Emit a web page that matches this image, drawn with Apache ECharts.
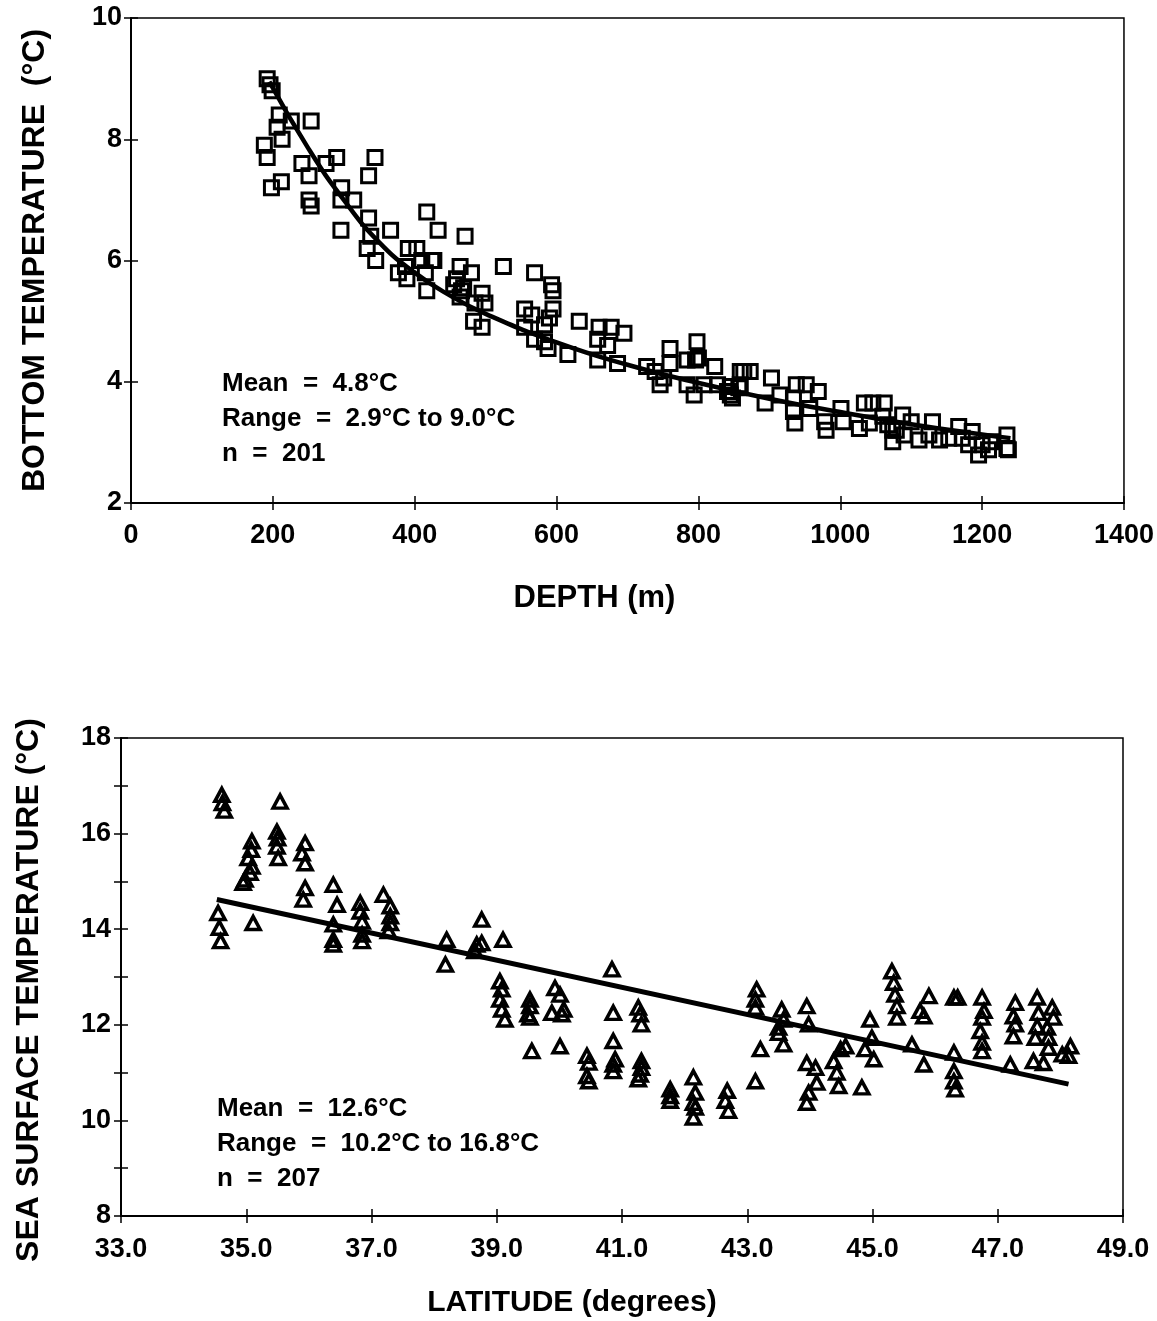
<!DOCTYPE html>
<html>
<head>
<meta charset="utf-8">
<script src="https://cdn.jsdelivr.net/npm/echarts@6/dist/echarts.min.js"></script>
<style>
  html, body { margin: 0; padding: 0; background: #fff; }
  #chart { width: 1157px; height: 1321px; }
</style>
</head>
<body>
<div id="chart"></div>
<script>
// Top panel: bottom temperature vs depth, [depth m, temp °C]
const bottomTempPoints = [
  [192,9.0],[196,8.9],[199,8.8],[209,8.4],[226,8.3],[254,8.3],[206,8.2],[213,8.0],[188,7.9],[192,7.7],
  [241,7.6],[275,7.6],[290,7.7],[344,7.7],[251,7.4],[335,7.4],[198,7.2],[212,7.3],[251,7.0],[254,6.9],
  [297,7.2],[296,7.0],[314,7.0],[417,6.8],[296,6.5],[335,6.7],[338,6.4],[366,6.5],[333,6.2],[345,6.0],
  [433,6.5],[471,6.4],[391,6.2],[403,6.2],[424,6.0],[410,6.0],[377,5.8],[389,5.7],[415,5.8],[417,5.5],
  [464,5.9],[459,5.7],[480,5.8],[466,5.5],[387,5.9],[427,6.0],[525,5.9],[569,5.8],[593,5.6],[595,5.5],
  [455,5.6],[469,5.55],[464,5.4],[495,5.46],[499,5.3],[485,5.3],[483,5.0],[495,4.9],[555,5.2],[565,5.1],
  [555,4.9],[595,5.2],[590,5.05],[583,4.94],[569,4.7],[583,4.66],[588,4.55],[632,5.0],[660,4.9],[677,4.9],
  [695,4.8],[658,4.7],[672,4.6],[616,4.45],[658,4.36],[686,4.3],[760,4.55],[798,4.66],[784,4.36],[796,4.36],
  [760,4.3],[823,4.25],[727,4.25],[739,4.17],[751,4.06],[746,3.95],[784,3.95],[794,3.78],[808,3.95],[827,3.95],
  [841,3.84],[859,4.17],[859,3.95],[845,3.78],[800,4.39],[864,4.17],[873,4.17],[845,3.92],[857,3.9],[848,3.73],
  [903,4.06],[894,3.65],[915,3.78],[934,3.73],[934,3.51],[936,3.32],[938,3.95],[952,3.95],[969,3.84],[957,3.56],
  [978,3.34],[980,3.2],[1001,3.56],[1004,3.34],[1034,3.65],[1046,3.65],[1062,3.65],[1027,3.23],[1041,3.32],[1060,3.43],
  [1067,3.29],[1074,3.2],[1074,3.01],[1088,3.45],[1100,3.34],[1079,3.2],[1090,3.12],[1111,3.04],[1130,3.34],[1125,3.12],
  [1140,3.04],[1153,3.07],[1167,3.26],[1172,3.07],[1181,2.96],[1186,3.18],[1195,2.79],[1200,2.96],[1212,3.01],[1209,2.88],
  [1235,3.12],[1235,2.9],[1237,2.88]
];
// fitted curve
const bottomTempFit = [
  [195,8.95],[250,7.85],[300,7.0],[350,6.3],[400,5.8],[450,5.42],[500,5.12],[600,4.65],
  [700,4.28],[800,3.98],[900,3.72],[1000,3.5],[1100,3.3],[1200,3.13],[1240,3.07]
];
const bottomTempNotes = ['Mean  =  4.8°C', 'Range  =  2.9°C to 9.0°C', 'n  =  201'];

// Bottom panel: sea surface temperature vs latitude, [lat deg, sst °C]
const sstPoints = [
  [34.61,16.81],[34.62,16.64],[34.65,16.48],[35.54,16.67],
  [35.09,15.84],[35.08,15.66],[35.03,15.49],[35.09,15.31],[35.06,15.18],[34.98,15.04],[34.95,14.97],
  [35.49,16.04],[35.5,15.9],[35.49,15.73],[35.51,15.49],
  [35.94,15.8],[35.89,15.59],[35.94,15.38],[35.94,14.86],[35.91,14.62],
  [34.55,14.34],[34.57,14.03],[34.59,13.75],[35.11,14.13],
  [36.39,14.93],[36.45,14.51],[36.39,14.1],[36.39,13.78],[36.39,13.68],
  [36.82,14.55],[36.82,14.37],[36.85,14.16],[36.85,13.89],[36.85,13.75],
  [37.19,14.72],[37.3,14.48],[37.3,14.27],[37.3,14.13],[37.27,13.96],
  [38.2,13.78],[38.18,13.26],
  [38.76,14.2],[38.68,13.68],[38.76,13.71],[38.65,13.54],[39.1,13.78],
  [39.05,12.91],[39.08,12.74],[39.05,12.53],[39.08,12.32],[39.13,12.11],
  [39.53,12.53],[39.53,12.39],[39.5,12.22],[39.53,12.15],[39.56,11.45],
  [39.93,12.77],[40.01,12.63],[39.88,12.25],[40.07,12.32],[40.04,12.22],[40.01,11.55],
  [40.84,13.16],[40.86,12.25],[40.86,11.66],[40.89,11.28],[40.86,11.03],[40.86,11.17],
  [41.26,12.36],[41.29,12.22],[41.31,12.01],[41.31,11.24],[41.31,11.1],[41.29,10.96],[41.26,10.86],
  [40.44,11.35],[40.47,11.21],[40.44,10.93],[40.47,10.82],
  [41.77,10.65],[41.77,10.51],[41.77,10.41],
  [42.14,10.9],[42.17,10.58],[42.14,10.37],[42.17,10.27],[42.14,10.06],
  [42.68,10.62],[42.65,10.41],[42.7,10.2],
  [43.15,12.74],[43.13,12.53],[43.13,12.36],[43.21,11.49],[43.13,10.82],
  [43.55,12.32],[43.58,12.11],[43.5,11.94],[43.5,11.83],[43.58,11.59],
  [43.95,12.39],[43.98,12.01],[43.95,11.2],[44.09,11.1],[44.11,10.79],[43.98,10.58],[43.95,10.37],
  [44.57,11.55],[44.49,11.49],[44.38,11.24],[44.43,11.0],[44.46,10.72],[44.83,10.69],
  [44.96,12.11],[44.99,11.73],[44.88,11.49],[45.02,11.28],
  [45.31,13.12],[45.34,12.88],[45.36,12.63],[45.39,12.39],[45.39,12.15],
  [45.63,11.59],[45.82,11.17],[45.9,12.6],[45.76,12.29],[45.82,12.18],
  [46.3,12.57],[46.36,12.57],[46.3,11.42],[46.3,11.03],[46.3,10.82],[46.32,10.65],
  [46.75,12.57],[46.78,12.29],[46.75,12.15],[46.72,11.87],[46.75,11.63],[46.75,11.45],
  [47.2,11.17],[47.28,12.46],[47.25,12.18],[47.28,12.01],[47.25,11.76],
  [47.63,12.57],[47.65,12.25],[47.63,11.97],[47.6,11.73],[47.57,11.24],[47.73,11.2],
  [47.87,12.36],[47.89,12.15],[47.79,11.94],[47.81,11.73],[47.81,11.52],
  [48.03,11.38],[48.16,11.55],[48.13,11.35]
];
const sstFit = [[34.53,14.62],[48.13,10.76]];
const sstNotes = ['Mean  =  12.6°C', 'Range  =  10.2°C to 16.8°C', 'n  =  207'];

const FONT = '"Liberation Sans", Arial, Helvetica, sans-serif';
const black = '#000';

// main axis (labels + outward ticks) and a twin with inward ticks so ticks cross the line
function axisPair(kind, gridIndex, min, max, interval, opts) {
  const minor = opts.minor
    ? { show: true, splitNumber: 2, length: 7, lineStyle: { color: black, width: 1.5 } }
    : { show: false };
  const base = {
    gridIndex, type: 'value', min, max, interval,
    position: kind === 'x' ? 'bottom' : 'left',
    splitLine: { show: false },
    minorTick: minor
  };
  const main = Object.assign({}, base, {
    axisLine: { show: true, onZero: false, lineStyle: { color: black, width: 2 } },
    axisTick: { show: true, inside: false, length: 7, lineStyle: { color: black, width: 1.5 } },
    axisLabel: {
      color: black, fontFamily: FONT, fontSize: 27, fontWeight: 'bold',
      margin: opts.margin, formatter: opts.formatter || (v => String(v))
    },
    name: opts.name, nameLocation: 'middle', nameGap: opts.nameGap,
    nameTextStyle: {
      color: black, fontFamily: FONT, fontSize: opts.nameSize, fontWeight: 'bold',
      padding: opts.namePad || 0
    }
  });
  const twin = Object.assign({}, base, {
    axisLine: { show: false, onZero: false },
    axisTick: { show: true, inside: true, length: 7, lineStyle: { color: black, width: 1.5 } },
    axisLabel: { show: false }
  });
  return [main, twin];
}

const topX = axisPair('x', 0, 0, 1400, 200, {
  margin: 19, name: 'DEPTH (m)', nameGap: 80, nameSize: 31, namePad: [0, 66, 0, 0]
});
const topY = axisPair('y', 0, 2, 10, 2, {
  margin: 9, name: 'BOTTOM TEMPERATURE  (°C)', nameGap: 80, nameSize: 32
});
const botX = axisPair('x', 1, 33, 49, 2, {
  margin: 20, name: 'LATITUDE (degrees)', nameGap: 72, nameSize: 30, namePad: [0, 100, 0, 0],
  formatter: v => v.toFixed(1)
});
const botY = axisPair('y', 1, 8, 18, 2, {
  margin: 10, name: 'SEA SURFACE TEMPERATURE (°C)', nameGap: 76, nameSize: 32,
  namePad: [0, 26, 0, 0], minor: true
});

function notes(lines, left, top) {
  return lines.map((t, i) => ({
    type: 'text', left, top: top + i * 35,
    style: { text: t, fill: black, fontFamily: FONT, fontSize: 26, fontWeight: 'bold' }
  }));
}

const chart = echarts.init(document.getElementById('chart'));
chart.setOption({
  animation: false,
  backgroundColor: '#fff',
  grid: [
    { left: 131, top: 18, width: 998, height: 485, show: true, borderColor: black, borderWidth: 1.5 },
    { left: 121, top: 738, width: 1002, height: 478, show: true, borderColor: black, borderWidth: 1.5 }
  ],
  xAxis: [topX[0], topX[1], botX[0], botX[1]],
  yAxis: [topY[0], topY[1], botY[0], botY[1]],
  series: [
    {
      type: 'scatter', xAxisIndex: 0, yAxisIndex: 0, data: bottomTempPoints,
      symbol: 'rect', symbolSize: 14,
      itemStyle: { color: 'rgba(0,0,0,0)', borderColor: black, borderWidth: 3, opacity: 1 }
    },
    {
      type: 'line', xAxisIndex: 0, yAxisIndex: 0, data: bottomTempFit, smooth: true,
      showSymbol: false, lineStyle: { color: black, width: 4.5 }
    },
    {
      type: 'scatter', xAxisIndex: 2, yAxisIndex: 2, data: sstPoints,
      symbol: 'triangle', symbolSize: [14, 13],
      itemStyle: { color: 'rgba(0,0,0,0)', borderColor: black, borderWidth: 3.5, opacity: 1 }
    },
    {
      type: 'line', xAxisIndex: 2, yAxisIndex: 2, data: sstFit,
      showSymbol: false, lineStyle: { color: black, width: 5 }
    }
  ],
  graphic: notes(bottomTempNotes, 222, 371).concat(notes(sstNotes, 217, 1096))
});
</script>
</body>
</html>
